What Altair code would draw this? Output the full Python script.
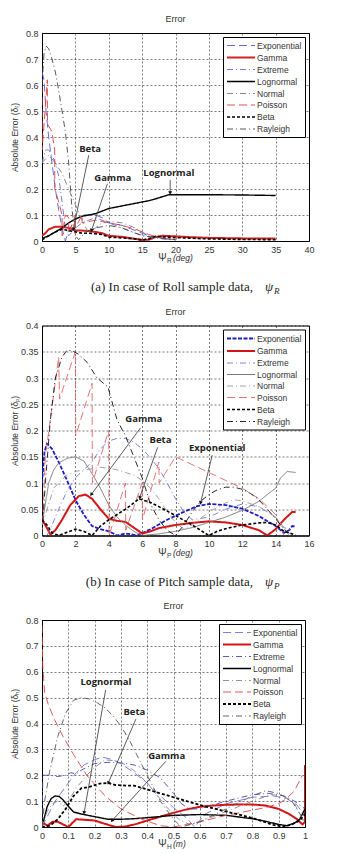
import math
import altair as alt
import pandas as pd

NAMES = ["Exponential", "Gamma", "Extreme", "Lognormal", "Normal", "Poisson", "Beta", "Rayleigh"]

# ---------------- (a) Roll ----------------
ROLL = {
    "Exponential": ([0, 0.3, 0.6, 1, 1.5, 2, 2.5, 3, 3.5, 4, 5, 6, 7, 8, 9, 10, 12, 14, 16, 18, 20],
                    [0.65, 0.62, 0.5, 0.4, 0.3, 0.2, 0.12, 0.05, 0.0, 0.04, 0.08, 0.1, 0.1, 0.1, 0.09, 0.07, 0.06, 0.04, 0.02, 0.01, 0.005]),
    "Gamma": ([0, 0.5, 1, 2, 3, 4, 5, 6, 7, 8, 9, 10, 11, 12, 13, 14, 15, 16, 17, 18, 20, 22, 25, 30, 35],
              [0.02, 0.03, 0.045, 0.055, 0.055, 0.05, 0.04, 0.04, 0.038, 0.035, 0.03, 0.02, 0.018, 0.016, 0.012, 0.008, 0.004, 0.005, 0.015, 0.02, 0.018, 0.015, 0.012, 0.01, 0.01]),
    "Extreme": ([0, 0.5, 1, 1.5, 2, 2.5, 3, 3.5, 4, 5, 6, 7, 8, 9, 10, 12, 14, 16, 18, 20],
                [0.3, 0.35, 0.35, 0.33, 0.3, 0.25, 0.15, 0.05, 0.02, 0.05, 0.07, 0.08, 0.09, 0.08, 0.07, 0.05, 0.03, 0.015, 0.008, 0.004]),
    "Lognormal": ([0, 1, 2, 3, 4, 5, 6, 7, 8, 9, 10, 11, 12, 13, 14, 15, 16, 17, 18, 19, 20, 25, 30, 35],
                  [0.01, 0.02, 0.035, 0.05, 0.07, 0.085, 0.095, 0.1, 0.105, 0.115, 0.125, 0.13, 0.135, 0.14, 0.145, 0.15, 0.155, 0.162, 0.17, 0.178, 0.178, 0.178, 0.177, 0.175]),
    "Normal": ([0, 1, 2, 3, 4, 5, 6, 7, 8, 9, 10, 12, 14, 16, 18, 20],
               [0.3, 0.33, 0.3, 0.26, 0.2, 0.14, 0.08, 0.03, 0.05, 0.07, 0.075, 0.07, 0.05, 0.02, 0.01, 0.005]),
    "Poisson": ([0, 0.02, 0.8, 0.82, 1.5, 1.9, 1.92, 2.5, 3, 3.02, 3.5, 4, 4.02, 5, 5.02, 6, 6.02, 8, 10, 12, 14, 16, 18, 20],
                [0.6, 0.35, 0.62, 0.45, 0.42, 0.35, 0.2, 0.15, 0.1, 0.02, 0.1, 0.09, 0.03, 0.1, 0.05, 0.1, 0.07, 0.08, 0.07, 0.06, 0.045, 0.025, 0.01, 0.005]),
    "Beta": ([0, 1, 2, 3, 4, 5, 6, 7, 8, 9, 10, 12, 14, 15, 16, 17, 18, 20, 25, 30, 35],
             [0.005, 0.02, 0.035, 0.045, 0.04, 0.035, 0.03, 0.03, 0.028, 0.025, 0.015, 0.012, 0.008, 0.004, 0.008, 0.018, 0.016, 0.013, 0.008, 0.006, 0.005]),
    "Rayleigh": ([0, 0.3, 0.6, 1, 1.5, 2, 2.5, 3, 3.5, 4, 4.5, 5, 5.5, 6, 7, 8, 10, 12, 15, 20],
                 [0.6, 0.72, 0.75, 0.74, 0.7, 0.65, 0.58, 0.5, 0.42, 0.3, 0.12, 0.02, 0.005, 0.02, 0.04, 0.05, 0.06, 0.05, 0.02, 0.005]),
}
ROLL_COLORS = ["#5a5ad2", "#d42020", "#6a6ad8", "#000000", "#7a7a7a", "#d84040", "#000000", "#444444"]
ROLL_DASHES = [[8, 4], [1, 0], [6, 3, 1, 3], [1, 0], [6, 3, 1, 3], [8, 4], [3, 2], [6, 3, 1, 3]]
ROLL_WIDTHS = [0.9, 2, 0.9, 1.4, 0.9, 0.9, 1.6, 0.9]
ROLL_NOTES = [("Beta", 7.2, 0.354, 7.0, 0.33, 4.7, 0.045),
              ("Gamma", 10.6, 0.242, 9.8, 0.22, 7.4, 0.04),
              ("Lognormal", 19.0, 0.26, 19.2, 0.235, 19.2, 0.185)]

# ---------------- (b) Pitch ----------------
PITCH = {
    "Exponential": ([0, 0.15, 0.3, 0.6, 1, 1.5, 2, 2.5, 3, 3.5, 4, 4.5, 5, 5.7, 6.5, 7.5, 8.5, 9.3, 10, 11, 12, 13, 14, 14.5, 14.8, 15, 15.2],
                    [0.1, 0.16, 0.175, 0.165, 0.14, 0.105, 0.068, 0.04, 0.018, 0.012, 0.008, 0.0, 0.004, 0.0, 0.012, 0.03, 0.045, 0.056, 0.06, 0.058, 0.051, 0.037, 0.018, 0.005, 0.01, 0.018, 0.017]),
    "Gamma": ([0, 0.2, 0.5, 0.8, 1.2, 1.7, 2.2, 2.6, 3, 3.5, 4, 4.5, 5, 5.5, 6, 6.5, 7, 8, 9, 10, 11, 12, 13, 13.5, 14, 14.5, 15, 15.2],
              [0.03, 0.02, 0.002, 0.01, 0.03, 0.058, 0.075, 0.078, 0.07, 0.05, 0.032, 0.028, 0.026, 0.015, 0.004, 0.008, 0.014, 0.02, 0.024, 0.027, 0.025, 0.02, 0.01, 0.0, 0.012, 0.03, 0.045, 0.045]),
    "Extreme": ([0.3, 0.6, 1, 1.5, 2, 2.5, 3, 3.5, 4, 4.5, 5, 5.5, 6, 6.5, 7, 7.5, 8, 8.5, 9, 10, 11, 12, 13, 14, 14.5, 15],
                [0.0, 0.02, 0.05, 0.085, 0.11, 0.125, 0.14, 0.165, 0.18, 0.185, 0.185, 0.178, 0.165, 0.148, 0.128, 0.1, 0.07, 0.045, 0.03, 0.035, 0.05, 0.06, 0.055, 0.035, 0.015, 0.01]),
    "Lognormal": ([0, 0.2, 0.4, 0.7, 1, 1.5, 2, 2.5, 3, 3.5, 4, 4.5, 5, 5.5, 6, 7, 8, 9, 10, 11, 12, 13, 13.5, 14, 14.3, 14.7, 15.2],
                  [0.02, 0.06, 0.1, 0.125, 0.138, 0.147, 0.15, 0.142, 0.118, 0.09, 0.058, 0.035, 0.02, 0.008, 0.0, 0.003, 0.008, 0.015, 0.025, 0.035, 0.048, 0.065, 0.078, 0.09, 0.11, 0.122, 0.12]),
    "Normal": ([0, 0.3, 0.7, 1, 1.5, 2, 2.5, 3, 3.5, 4, 4.5, 5, 5.5, 6, 6.5, 7, 7.5, 8, 8.5, 9, 10, 11, 11.5, 12, 13, 14, 14.5, 14.8],
               [0.02, 0.05, 0.09, 0.1, 0.115, 0.122, 0.125, 0.127, 0.13, 0.128, 0.125, 0.12, 0.115, 0.105, 0.09, 0.07, 0.045, 0.025, 0.012, 0.02, 0.045, 0.062, 0.068, 0.066, 0.055, 0.035, 0.015, 0.0]),
    "Poisson": ([0, 0.2, 1.0, 1.05, 2.0, 2.02, 3.0, 3.02, 4.0, 4.02, 5.0, 5.02, 6.0, 6.02, 7.0, 7.02, 8, 10, 12, 13, 14, 14.5],
                [0.0, 0.15, 0.34, 0.26, 0.35, 0.19, 0.29, 0.1, 0.2, 0.0, 0.1, 0.01, 0.1, 0.03, 0.14, 0.1, 0.15, 0.12, 0.09, 0.07, 0.04, 0.0]),
    "Beta": ([0, 0.3, 0.6, 1, 1.5, 2, 2.5, 3, 3.5, 4, 4.5, 5, 5.5, 5.8, 6.5, 7, 8, 9, 10, 10.5, 11, 12, 13, 13.5, 14, 14.5, 15, 15.2],
             [0.03, 0.02, 0.005, 0.0, 0.006, 0.012, 0.008, 0.0, 0.018, 0.03, 0.04, 0.05, 0.062, 0.07, 0.063, 0.055, 0.038, 0.02, 0.0, 0.008, 0.013, 0.02, 0.024, 0.025, 0.02, 0.008, 0.003, 0.0]),
    "Rayleigh": ([0, 0.2, 0.5, 0.8, 1.2, 1.5, 1.8, 2.2, 2.7, 3.3, 3.95, 4.5, 5, 5.5, 6, 6.5, 7, 7.5, 8, 8.5, 9, 9.5, 10, 10.5, 11, 11.5, 12, 12.5, 13, 13.5, 14, 14.5, 15],
                 [0.0, 0.1, 0.22, 0.3, 0.34, 0.353, 0.352, 0.345, 0.33, 0.3, 0.283, 0.22, 0.19, 0.15, 0.11, 0.06, 0.03, 0.01, 0.0, 0.02, 0.045, 0.065, 0.078, 0.087, 0.092, 0.092, 0.088, 0.08, 0.068, 0.05, 0.032, 0.012, 0.0]),
}
PITCH_COLORS = ["#1c1cc8", "#d41414", "#7474da", "#7a7a7a", "#9a9a9a", "#e06666", "#000000", "#111111"]
PITCH_DASHES = [[4, 1.5], [1, 0], [6, 3, 1, 3], [1, 0], [6, 3, 1, 3], [8, 4], [3, 2], [6, 3, 1, 3]]
PITCH_WIDTHS = [1.8, 2, 0.9, 1, 0.9, 0.9, 1.6, 0.9]
PITCH_NOTES = [("Gamma", 6.1, 0.221, 5.9, 0.205, 2.95, 0.078),
               ("Beta", 7.1, 0.181, 6.93, 0.168, 5.85, 0.072),
               ("Exponential", 10.5, 0.167, 10.2, 0.153, 9.5, 0.062)]

# ---------------- (c) Heave ----------------
HEAVE = {
    "Exponential": ([0, 0.02, 0.05, 0.1, 0.13, 0.16, 0.2, 0.23, 0.27, 0.3, 0.35, 0.4, 0.45, 0.5, 0.55, 0.58, 0.62, 0.7, 0.8, 0.88, 0.93, 0.97, 1.0],
                    [0.0, 0.04, 0.1, 0.17, 0.21, 0.24, 0.26, 0.27, 0.26, 0.245, 0.21, 0.17, 0.12, 0.075, 0.035, 0.0, 0.05, 0.09, 0.115, 0.12, 0.11, 0.085, 0.04]),
    "Gamma": ([0, 0.02, 0.04, 0.06, 0.08, 0.1, 0.13, 0.16, 0.2, 0.24, 0.28, 0.32, 0.36, 0.4, 0.45, 0.5, 0.55, 0.6, 0.65, 0.7, 0.75, 0.8, 0.85, 0.9, 0.94, 0.97, 0.99, 1.0, 1.0],
              [0.02, 0.005, 0.02, 0.02, 0.01, 0.0, 0.03, 0.028, 0.025, 0.012, 0.0, 0.002, 0.012, 0.025, 0.04, 0.055, 0.068, 0.078, 0.083, 0.086, 0.087, 0.087, 0.083, 0.07, 0.05, 0.03, 0.01, 0.02, 0.24]),
    "Extreme": ([0, 0.003, 0.03, 0.06, 0.09, 0.11, 0.13, 0.15, 0.2, 0.25, 0.3, 0.35, 0.4, 0.45, 0.5, 0.53, 0.56, 0.6, 0.7, 0.8, 0.86, 0.92, 0.96, 1.0],
                [0.0, 0.2, 0.2, 0.195, 0.2, 0.21, 0.205, 0.22, 0.245, 0.25, 0.248, 0.24, 0.22, 0.19, 0.13, 0.09, 0.07, 0.07, 0.1, 0.125, 0.13, 0.12, 0.1, 0.07]),
    "Lognormal": ([0, 0.01, 0.02, 0.035, 0.05, 0.065, 0.08, 0.1, 0.12, 0.15, 0.2, 0.25, 0.3, 0.35, 0.4, 0.5, 0.6, 0.7, 0.8, 0.85, 0.9, 0.93, 0.96, 0.98, 1.0],
                  [0.0, 0.04, 0.08, 0.11, 0.12, 0.118, 0.105, 0.08, 0.058, 0.05, 0.04, 0.03, 0.03, 0.032, 0.036, 0.045, 0.048, 0.045, 0.032, 0.022, 0.01, 0.005, 0.015, 0.03, 0.07]),
    "Normal": ([0, 0.02, 0.04, 0.06, 0.08, 0.1, 0.13, 0.17, 0.2, 0.24, 0.28, 0.32, 0.36, 0.4, 0.44, 0.48, 0.52, 0.56, 0.6, 0.7, 0.8, 0.87, 0.92, 0.96, 1.0],
               [0.0, 0.06, 0.09, 0.1, 0.08, 0.1, 0.15, 0.2, 0.23, 0.26, 0.255, 0.24, 0.21, 0.17, 0.12, 0.07, 0.03, 0.01, 0.02, 0.06, 0.1, 0.125, 0.12, 0.09, 0.01]),
    "Poisson": ([0, 0.003, 0.01, 0.025, 0.05, 0.08, 0.12, 0.17, 0.24, 0.3, 0.38, 0.45, 0.5, 0.55, 0.6, 0.7, 0.8, 0.85, 0.9, 0.93, 0.96, 0.99],
                [0.78, 0.62, 0.52, 0.47, 0.41, 0.35, 0.28, 0.2, 0.12, 0.07, 0.03, 0.005, 0.0, 0.01, 0.02, 0.045, 0.065, 0.075, 0.09, 0.11, 0.14, 0.2]),
    "Beta": ([0, 0.03, 0.06, 0.09, 0.12, 0.15, 0.18, 0.22, 0.25, 0.28, 0.32, 0.35, 0.4, 0.45, 0.5, 0.55, 0.6, 0.7, 0.8, 0.88, 0.92, 0.95, 0.98, 1.0],
             [0.0, 0.005, 0.03, 0.07, 0.12, 0.15, 0.155, 0.168, 0.17, 0.162, 0.16, 0.16, 0.145, 0.13, 0.115, 0.1, 0.085, 0.06, 0.035, 0.008, 0.0, 0.01, 0.025, 0.05]),
    "Rayleigh": ([0, 0.01, 0.03, 0.06, 0.09, 0.12, 0.15, 0.18, 0.21, 0.24, 0.27, 0.3, 0.33, 0.36, 0.4, 0.45, 0.5, 0.53, 0.6, 0.7, 0.8, 0.85, 0.9, 0.95, 1.0],
                 [0.0, 0.1, 0.22, 0.35, 0.44, 0.49, 0.5, 0.495, 0.48, 0.46, 0.43, 0.39, 0.34, 0.28, 0.2, 0.1, 0.03, 0.0, 0.02, 0.07, 0.12, 0.14, 0.13, 0.1, 0.02]),
}
HEAVE_COLORS = ["#7070d8", "#d41414", "#4646aa", "#000000", "#888888", "#d84848", "#000000", "#555555"]
HEAVE_DASHES = [[8, 4], [1, 0], [6, 3, 1, 3], [1, 0], [6, 3, 1, 3], [8, 4], [3, 2], [6, 3, 1, 3]]
HEAVE_WIDTHS = [0.9, 2, 0.9, 1.4, 0.9, 0.9, 1.8, 0.9]
HEAVE_NOTES = [("Lognormal", 0.243, 0.56, 0.242, 0.53, 0.16, 0.055),
               ("Beta", 0.351, 0.443, 0.357, 0.417, 0.252, 0.17),
               ("Gamma", 0.474, 0.276, 0.471, 0.254, 0.266, 0.024)]

SANS = "Liberation Sans"
SERIF = "Liberation Serif"
NOTE_FONT = "Open Sans"


def long_table(series):
    rows = []
    for name in NAMES:
        xs, ys = series[name]
        for i, (x, y) in enumerate(zip(xs, ys)):
            rows.append({"series": name, "x": x, "y": y, "i": i})
    return pd.DataFrame(rows)


def panel(series, colors, dashes, widths, notes, xdom, xticks, ydom, yticks,
          W, H, sym, sub, unit, ysub, caption=None, cap_sym=None):
    legend = alt.Legend(
        orient="top-right", offset=4, title=None,
        symbolType="M-1,0H4.6", symbolSize=100, labelOffset=19,
        labelFont=SANS, labelFontSize=8.5, labelColor="#333",
        fillColor="white", strokeColor="black", padding=3, rowPadding=1.5,
        labelLimit=90,
    )
    xs = alt.Scale(domain=xdom, nice=False, zero=False)
    ys = alt.Scale(domain=ydom, nice=False, zero=False)
    x_axis = alt.Axis(values=xticks, title=None, format="~g", labelOverlap=False, labelFlush=False)
    y_axis = alt.Axis(values=yticks, format="~g", title=f"Absolute Error (δ{ysub})",
                      labelOverlap=False, labelFlush=False,
                      titleX=-28, titleY=H / 2, titleBaseline="middle", titleAngle=270)
    lines = alt.Chart(long_table(series)).mark_line(clip=True).encode(
        x=alt.X("x:Q", scale=xs, axis=x_axis),
        y=alt.Y("y:Q", scale=ys, axis=y_axis),
        color=alt.Color("series:N", scale=alt.Scale(domain=NAMES, range=colors), legend=legend),
        strokeDash=alt.StrokeDash("series:N", scale=alt.Scale(domain=NAMES, range=dashes), legend=legend),
        strokeWidth=alt.StrokeWidth("series:N", scale=alt.Scale(type="ordinal", domain=NAMES, range=widths),
                                    legend=legend),
        order="i:Q",
    )

    # annotation labels with pointer arrows
    xr = xdom[1] - xdom[0]
    yr = ydom[1] - ydom[0]
    nrows = []
    for (t, tx, ty, x1, y1, x2, y2) in notes:
        dx = (x2 - x1) / xr * W
        dy = (y2 - y1) / yr * H
        ang = math.degrees(math.atan2(dx, dy)) % 360
        nrows.append({"t": t, "tx": tx, "ty": ty, "x1": x1, "y1": y1, "x2": x2, "y2": y2, "ang": ang})
    nd = pd.DataFrame(nrows)
    note_text = alt.Chart(nd).mark_text(
        font=NOTE_FONT, fontWeight="bold", fontSize=9.5, color="#222", baseline="middle"
    ).encode(x=alt.X("tx:Q", scale=xs, axis=x_axis), y=alt.Y("ty:Q", scale=ys, axis=y_axis), text="t:N")
    note_line = alt.Chart(nd).mark_rule(color="#333", strokeWidth=0.8).encode(
        x=alt.X("x1:Q", scale=xs, axis=x_axis), y=alt.Y("y1:Q", scale=ys, axis=y_axis), x2="x2:Q", y2="y2:Q")
    note_head = alt.Chart(nd).mark_point(
        shape="triangle-up", filled=True, size=16, color="#111", opacity=1
    ).encode(x=alt.X("x2:Q", scale=xs, axis=x_axis), y=alt.Y("y2:Q", scale=ys, axis=y_axis),
             angle=alt.Angle("ang:Q", scale=None))

    # x-axis title: Ψ with subscript and unit
    xt = alt.Chart(pd.DataFrame({"t": [sym]})).mark_text(
        font=SANS, fontSize=10, color="#333", align="center", baseline="middle"
    ).encode(x=alt.value(120.5), y=alt.value(H + 17), text="t:N")
    xs_sub = alt.Chart(pd.DataFrame({"t": [sub]})).mark_text(
        font=SANS, fontSize=6.5, color="#333", align="left", baseline="middle"
    ).encode(x=alt.value(125), y=alt.value(H + 20), text="t:N")
    xs_unit = alt.Chart(pd.DataFrame({"t": [unit]})).mark_text(
        font=SANS, fontSize=8.5, fontStyle="italic", color="#333", align="left", baseline="middle"
    ).encode(x=alt.value(131), y=alt.value(H + 17), text="t:N")

    layers = [lines, note_line, note_head, note_text, xt, xs_sub, xs_unit]

    if caption is not None:
        cap = alt.Chart(pd.DataFrame({"t": [caption]})).mark_text(
            font=SERIF, fontSize=13, color="#222", align="right", baseline="middle"
        ).encode(x=alt.value(211), y=alt.value(H + 46), text="t:N")
        cap_psi = alt.Chart(pd.DataFrame({"t": ["ψ"]})).mark_text(
            font=SERIF, fontSize=13, fontStyle="italic", color="#222", align="left", baseline="middle"
        ).encode(x=alt.value(223), y=alt.value(H + 46), text="t:N")
        cap_sub = alt.Chart(pd.DataFrame({"t": [cap_sym]})).mark_text(
            font=SERIF, fontSize=9, fontStyle="italic", color="#222", align="left", baseline="middle"
        ).encode(x=alt.value(232), y=alt.value(H + 50), text="t:N")
        layers += [cap, cap_psi, cap_sub]

    return alt.layer(*layers).properties(
        width=W, height=H,
        title=alt.Title("Error", font=SANS, fontSize=9, fontWeight="normal", color="#333", offset=5),
    )


p1 = panel(ROLL, ROLL_COLORS, ROLL_DASHES, ROLL_WIDTHS, ROLL_NOTES,
           [0, 40], list(range(0, 41, 5)), [0, 0.8], [round(0.1 * k, 1) for k in range(9)],
           267, 208, "Ψ", "R", "(deg)", "ᵣ",
           caption="(a)  In  case  of  Roll  sample  data,", cap_sym="R")
p2 = panel(PITCH, PITCH_COLORS, PITCH_DASHES, PITCH_WIDTHS, PITCH_NOTES,
           [0, 16], list(range(0, 17, 2)), [0, 0.4], [round(0.05 * k, 2) for k in range(9)],
           267, 210, "Ψ", "P", "(deg)", "ₚ",
           caption="(b)  In  case  of  Pitch  sample  data,", cap_sym="P")
p3 = panel(HEAVE, HEAVE_COLORS, HEAVE_DASHES, HEAVE_WIDTHS, HEAVE_NOTES,
           [0, 1], [round(0.1 * k, 1) for k in range(11)], [0, 0.8], [round(0.1 * k, 1) for k in range(9)],
           263, 207, "Ψ", "H", "(m)", "ₕ")

chart = alt.vconcat(p1, p2, p3, spacing=9.5).resolve_scale(
    x="independent", y="independent", color="independent",
    strokeDash="independent", strokeWidth="independent",
).resolve_legend(color="independent", strokeDash="independent", strokeWidth="independent").properties(
    padding={"left": 9, "top": 14, "right": 0, "bottom": 0},
    background="white",
).configure_view(
    stroke="black", strokeWidth=1,
).configure_axis(
    grid=True, gridColor="#000", gridDash=[2, 2], gridOpacity=0.75, gridWidth=0.7,
    domainColor="#000", ticks=False, labelPadding=4, labelOverlap=False,
    labelFont=SANS, labelFontSize=9, labelColor="#333",
    titleFont=SANS, titleFontSize=8.5, titleFontWeight="normal", titleColor="#333",
)

chart.save("out.html", embed_options={"renderer": "svg", "actions": False})
